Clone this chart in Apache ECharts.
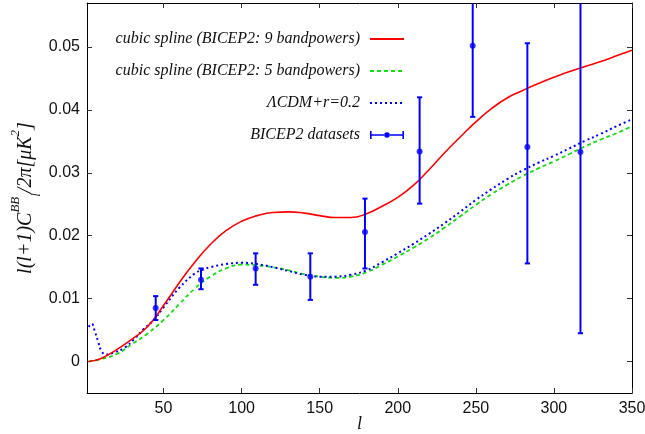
<!DOCTYPE html>
<html><head><meta charset="utf-8">
<script src="https://cdn.jsdelivr.net/npm/echarts@6/dist/echarts.min.js"></script>
<style>html,body{margin:0;padding:0;background:#fff}#c{width:645px;height:434px}</style>
</head><body><div id="c"></div>
<script>
// ---- data ----
const xTicks = [50, 100, 150, 200, 250, 300, 350];
const yTicks = [0, 0.01, 0.02, 0.03, 0.04, 0.05];

const redL = [2, 10, 20, 30, 40, 50, 60, 70, 80, 90, 100, 110, 120, 130, 140, 150, 160, 170, 180, 190, 200, 210, 220, 230, 240, 250, 260, 270, 280, 290, 300, 310, 320, 330, 340, 350];
const redV = [0.0000, 0.0005, 0.0019, 0.0036, 0.0056, 0.0089, 0.0125, 0.0158, 0.0186, 0.0208, 0.0223, 0.0232, 0.0237, 0.0238, 0.0236, 0.0232, 0.0229, 0.0229, 0.0235, 0.0247, 0.0261, 0.0280, 0.0305, 0.0332, 0.0357, 0.0381, 0.0402, 0.0419, 0.0431, 0.0442, 0.0452, 0.0461, 0.0469, 0.0477, 0.0486, 0.0495];

const greenL = [2, 10, 20, 30, 40, 50, 60, 70, 80, 90, 100, 110, 120, 130, 140, 150, 160, 170, 180, 190, 200, 210, 220, 230, 240, 250, 260, 270, 280, 290, 300, 310, 320, 330, 340, 350];
const greenV = [0.0000, 0.0004, 0.0012, 0.0028, 0.0045, 0.0066, 0.0091, 0.0116, 0.0135, 0.0148, 0.0154, 0.0153, 0.0150, 0.0145, 0.0139, 0.0135, 0.0133, 0.0135, 0.0142, 0.0154, 0.0167, 0.0181, 0.0196, 0.0213, 0.0231, 0.0249, 0.0266, 0.0281, 0.0295, 0.0307, 0.0318, 0.0330, 0.0342, 0.0353, 0.0363, 0.0374];

const lcdmL = [2, 4, 6, 8, 10, 13, 18, 25, 31, 37, 44, 50, 60, 70, 75, 80, 90, 100, 110, 120, 130, 140, 150, 160, 170, 180, 190, 200, 210, 220, 230, 240, 250, 260, 270, 280, 290, 300, 310, 320, 330, 340, 350];
const lcdmV = [0.0055, 0.0060, 0.0048, 0.0033, 0.0018, 0.0011, 0.0014, 0.0022, 0.0035, 0.0051, 0.0067, 0.0086, 0.0117, 0.0140, 0.0146, 0.0150, 0.0155, 0.0157, 0.0155, 0.0150, 0.0144, 0.0138, 0.0135, 0.0135, 0.0138, 0.0145, 0.0158, 0.0172, 0.0187, 0.0203, 0.0220, 0.0238, 0.0257, 0.0274, 0.0290, 0.0304, 0.0316, 0.0327, 0.0339, 0.0351, 0.0362, 0.0374, 0.0385];

const bandL = [45, 74, 109, 144, 179, 214, 248, 283, 317];
const bandV = [0.0085, 0.0130, 0.0148, 0.0135, 0.0206, 0.0334, 0.0502, 0.0341, 0.0333];
const bandLo = [0.0066, 0.0115, 0.0122, 0.0098, 0.0148, 0.0251, 0.0389, 0.0156, 0.0045];
const bandHi = [0.0104, 0.0148, 0.0172, 0.0172, 0.0259, 0.0420, 0.0615, 0.0506, 0.0621];

const names = ['cubic spline (BICEP2: 9 bandpowers)', 'cubic spline (BICEP2: 5 bandpowers)', '\u039BCDM+r=0.2', 'BICEP2 datasets'];

// ---- chart ----
const zip = (a, b) => a.map((v, i) => [v, b[i]]);
const chart = echarts.init(document.getElementById('c'), null, {renderer: 'canvas'});
const txt = '#111';
const sans = 'Liberation Sans';
const serif = 'Liberation Serif';
function mkX(pos, labels) {
  return {
    type: 'value', position: pos, min: 1, max: 350,
    axisLine: {show: true, onZero: false, lineStyle: {color: '#000', width: 1}},
    axisTick: {show: true, inside: true, length: 5, customValues: xTicks, lineStyle: {color: '#333'}},
    axisLabel: {show: labels, customValues: xTicks, margin: 8, color: txt, fontFamily: sans, fontSize: 16},
    splitLine: {show: false}
  };
}
function mkY(pos, labels) {
  return {
    type: 'value', position: pos, min: -0.005, max: 0.057,
    axisLine: {show: true, onZero: false, lineStyle: {color: '#000', width: 1}},
    axisTick: {show: true, inside: true, length: 5, customValues: yTicks, lineStyle: {color: '#333'}},
    axisLabel: {show: labels, customValues: yTicks, margin: 7, color: txt, fontFamily: sans, fontSize: 16,
      formatter: v => (Math.abs(v) < 1e-9 ? '0' : v.toFixed(2))},
    splitLine: {show: false}
  };
}
const xb = mkX('bottom', true);
xb.name = 'l'; xb.nameLocation = 'middle'; xb.nameGap = 22; xb.nameMoveOverlap = false;
xb.nameTextStyle = {fontFamily: serif, fontStyle: 'italic', fontSize: 18, color: txt};
const yl = mkY('left', true);
yl.name = '{n|l(l+1)C}{sup|BB}{sub|l}{n|/2\u03C0[\u03BCK}{sup|2}{n|]}';
yl.nameLocation = 'middle'; yl.nameRotate = 90; yl.nameGap = 44; yl.nameMoveOverlap = false;
yl.nameTextStyle = {
  rich: {
    n: {fontFamily: serif, fontStyle: 'italic', fontSize: 20, color: txt, lineHeight: 34, verticalAlign: 'middle'},
    sup: {fontFamily: serif, fontStyle: 'italic', fontSize: 13, color: txt, lineHeight: 15, verticalAlign: 'top'},
    sub: {fontFamily: serif, fontStyle: 'italic', fontSize: 13, color: txt, lineHeight: 15, verticalAlign: 'bottom'}
  }
};

const errIcon = 'path://M0,0H1.6V8H0Z M32.4,0H34V8H32.4Z M0,3.2H14.5V4.8H0Z M19.5,3.2H34V4.8H19.5Z M14.2,4A2.8,2.8 0 1,0 19.8,4A2.8,2.8 0 1,0 14.2,4Z';
const hideSym = {opacity: 0};

chart.setOption({
  animation: false,
  backgroundColor: '#fff',
  grid: {left: 87, right: 13, top: 3, bottom: 41, show: false, containLabel: false, outerBoundsMode: 'none'},
  xAxis: [xb, mkX('top', false)],
  yAxis: [yl, mkY('right', false)],
  legend: {
    orient: 'vertical', align: 'right', right: 240, top: 31, padding: 0,
    itemWidth: 34, itemHeight: 16, itemGap: 16,
    textStyle: {fontFamily: serif, fontStyle: 'italic', fontSize: 16, color: txt, padding: [0, 5, 0, 0]},
    data: [
      {name: names[0], itemStyle: hideSym}, {name: names[1], itemStyle: hideSym}, {name: names[2], itemStyle: hideSym},
      {name: names[3], icon: errIcon, itemStyle: {color: '#0000ff'}}
    ]
  },
  series: [
    {name: names[0], type: 'line', data: zip(redL, redV), smooth: 0.5, symbol: 'none', showSymbol: false,
      lineStyle: {color: '#ff0000', width: 1.6}, itemStyle: {color: '#ff0000'}, z: 3},
    {name: names[1], type: 'line', data: zip(greenL, greenV), smooth: 0.5, symbol: 'none', showSymbol: false,
      lineStyle: {color: '#11dd11', width: 1.8, type: [4, 3]}, itemStyle: {color: '#11dd11'}, z: 2},
    {name: names[2], type: 'line', data: zip(lcdmL, lcdmV), smooth: 0.4, symbol: 'none', showSymbol: false,
      lineStyle: {color: '#0000ff', width: 2, type: [2, 3]}, itemStyle: {color: '#0000ff'}, z: 2},
    {name: names[3], type: 'custom', clip: true, z: 4,
      data: bandL.map((l, i) => [l, bandLo[i], bandHi[i]]),
      itemStyle: {color: '#0000ff'},
      encode: {x: 0, y: [1, 2]},
      renderItem: function (params, api) {
        const x = api.value(0);
        const p1 = api.coord([x, api.value(1)]);
        const p2 = api.coord([x, api.value(2)]);
        const cw = 2.6;
        const st = {stroke: '#0000ff', lineWidth: 2};
        return {type: 'group', children: [
          {type: 'line', shape: {x1: p1[0], y1: p1[1], x2: p2[0], y2: p2[1]}, style: st},
          {type: 'line', shape: {x1: p1[0] - cw, y1: p1[1], x2: p1[0] + cw, y2: p1[1]}, style: st},
          {type: 'line', shape: {x1: p2[0] - cw, y1: p2[1], x2: p2[0] + cw, y2: p2[1]}, style: st}
        ]};
      }
    },
    {name: names[3], type: 'scatter', data: zip(bandL, bandV), symbol: 'circle', symbolSize: 6,
      itemStyle: {color: '#0000ff'}, z: 5}
  ]
});
</script>
</body></html>
